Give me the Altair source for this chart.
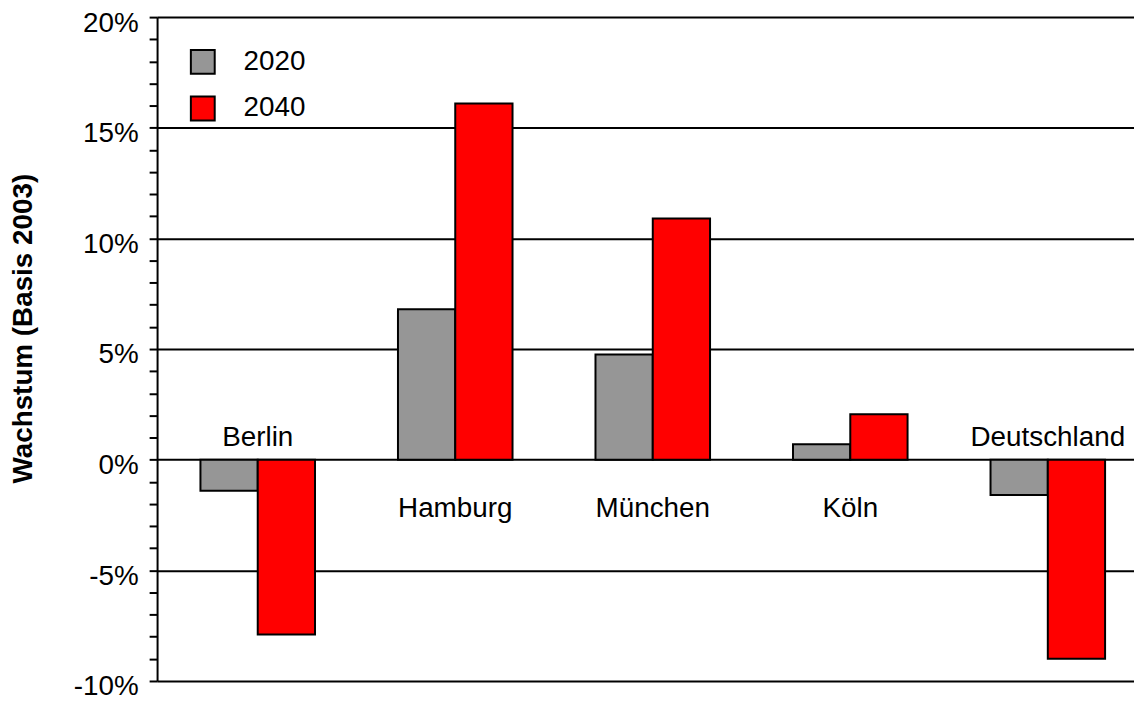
import altair as alt
import pandas as pd

cities = ["Berlin", "Hamburg", "München", "Köln", "Deutschland"]
years = ["2020", "2040"]
v2020 = [-1.4, 6.8, 4.75, 0.7, -1.6]
v2040 = [-7.9, 16.1, 10.9, 2.05, -9.0]
colors = ["#969696", "#FF0000"]
tick_values = list(range(-10, 21))

rows = []
for c, a, b in zip(cities, v2020, v2040):
    rows.append({"city": c, "year": years[0], "value": a})
    rows.append({"city": c, "year": years[1], "value": b})
df = pd.DataFrame(rows)

labels = pd.DataFrame({
    "city": cities,
    "neg": [min(a, b) < 0 for a, b in zip(v2020, v2040)],
})

FONT = "Liberation Sans"

xscale = alt.Scale(domain=cities, paddingInner=0.42, paddingOuter=0.183, align=0.6)
yscale = alt.Scale(domain=[-10, 20], nice=False, zero=False)

yaxis = alt.Axis(
    values=tick_values,
    labelExpr="datum.value % 5 === 0 ? datum.value + '%' : ''",
    labelFont=FONT,
    labelFontSize=28,
    labelColor="black",
    labelPadding=11,
    labelOffset=6,
    labelOverlap=False,
    tickSize=8,
    tickWidth=2,
    tickColor="black",
    domainColor="black",
    domainWidth=2,
    grid=True,
    gridColor="black",
    gridWidth=2,
    gridOpacity={"condition": {"test": "datum.value % 5 === 0", "value": 1}, "value": 0},
    title="Wachstum (Basis 2003)",
    titleFont=FONT,
    titleFontSize=28,
    titleFontWeight="bold",
    titleColor="black",
    titleX=-126,
    titleY=313,
    titleBaseline="alphabetic",
)

bars = alt.Chart(df).mark_bar(stroke="black", strokeWidth=2).encode(
    x=alt.X("city:N", scale=xscale, axis=None, sort=cities),
    xOffset=alt.XOffset("year:N", scale=alt.Scale(paddingInner=0, paddingOuter=0)),
    y=alt.Y("value:Q", scale=yscale, axis=yaxis),
    color=alt.Color(
        "year:N",
        scale=alt.Scale(domain=years, range=colors),
        legend=alt.Legend(
            title=None,
            orient="none",
            legendX=32,
            legendY=31,
            symbolType="square",
            symbolSize=576,
            symbolStrokeColor="black",
            symbolStrokeWidth=2,
            symbolOpacity=1,
            labelFont=FONT,
            labelFontSize=28,
            labelColor="black",
            labelOffset=27,
            rowPadding=15,
        ),
    ),
)

text_above = alt.Chart(labels).transform_filter("datum.neg").mark_text(
    font=FONT, fontSize=28, color="black", baseline="alphabetic", dy=-14
).encode(
    x=alt.X("city:N", scale=xscale, sort=cities, axis=None),
    y=alt.YDatum(0, type="quantitative", scale=yscale, axis=yaxis),
    text="city:N",
)

text_below = alt.Chart(labels).transform_filter("!datum.neg").mark_text(
    font=FONT, fontSize=28, color="black", baseline="alphabetic", dy=58
).encode(
    x=alt.X("city:N", scale=xscale, sort=cities, axis=None),
    y=alt.YDatum(0, type="quantitative", scale=yscale, axis=yaxis),
    text="city:N",
)

chart = alt.layer(bars, text_above, text_below).properties(
    width=983,
    height=668,
    autosize=alt.AutoSizeParams(type="none"),
    padding={"left": 150, "top": 7, "right": 0, "bottom": 21},
).configure_view(stroke=None).configure(background="white")

chart.save("out.html", embed_options={"renderer": "svg", "actions": False})
